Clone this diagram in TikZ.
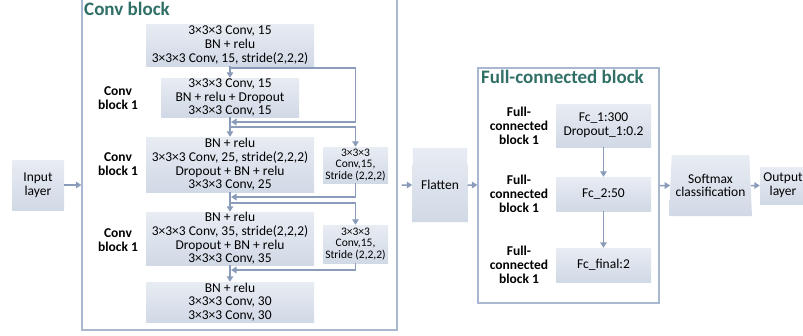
\documentclass[tikz,border=0pt]{standalone}
\usepackage{fontspec}
\setmainfont{Carlito}
\usetikzlibrary{shapes.geometric,arrows.meta}
\definecolor{boxtop}{HTML}{E8ECF3}
\definecolor{boxbot}{HTML}{D1D9E6}
\definecolor{framec}{HTML}{A9B8D0}
\definecolor{arrc}{HTML}{8A9CB9}
\definecolor{titlec}{HTML}{2F6F66}
\tikzset{
  blk/.style={draw=none, top color=boxtop, bottom color=boxbot, align=center,
    font=\fontsize{13.5}{13.7}\selectfont, inner sep=0pt},
  sblk/.style={blk, font=\fontsize{11.5}{11.8}\selectfont},
  trap/.style={blk, shape=trapezium, trapezium stretches=true},
  lbl/.style={font=\bfseries\fontsize{13.5}{13.7}\selectfont, align=center, inner sep=0pt},
  frm/.style={draw=framec, line width=1.2pt, fill=none, inner sep=0pt},
  ttl/.style={font=\bfseries\fontsize{19}{20}\selectfont, text=titlec, inner sep=0pt, anchor=base west},
  ln/.style={draw=arrc, line width=1.5pt},
  arr/.style={ln, -{Triangle[length=5.5pt,width=6.5pt]}}
}
\begin{document}
\begin{tikzpicture}[x=1pt,y=-1pt]
\useasboundingbox (0,0) rectangle (803,335);
\clip (0,0) rectangle (803,335);
% Conv block frame
\node[frm, minimum width=315pt, minimum height=340pt] (conv) at (239.5,160) {};
\node[ttl] (convt) at (84,15) {Conv block};
% main boxes
\node[blk, minimum width=168pt, minimum height=42pt] (b1) at (230,45) {3×3×3 Conv, 15\\BN + relu\\3×3×3 Conv, 15, stride(2,2,2)};
\node[blk, minimum width=138pt, minimum height=39pt] (b2) at (230,97.5) {3×3×3 Conv, 15\\BN + relu + Dropout\\3×3×3 Conv, 15};
\node[blk, minimum width=168pt, minimum height=55pt] (b3) at (230,164.5) {BN + relu\\3×3×3 Conv, 25, stride(2,2,2)\\Dropout + BN + relu\\3×3×3 Conv, 25};
\node[blk, minimum width=168pt, minimum height=53pt] (b4) at (230,238.5) {BN + relu\\3×3×3 Conv, 35, stride(2,2,2)\\Dropout + BN + relu\\3×3×3 Conv, 35};
\node[blk, minimum width=168pt, minimum height=40pt] (b5) at (230,302) {BN + relu\\3×3×3 Conv, 30\\3×3×3 Conv, 30};
% side boxes
\node[sblk, minimum width=65pt, minimum height=36pt] (s1) at (355.5,165) {3×3×3\\Conv,15,\\Stride (2,2,2)};
\node[sblk, minimum width=65pt, minimum height=38pt] (s2) at (355.5,244) {3×3×3\\Conv,15,\\Stride (2,2,2)};
% labels
\node[lbl] (l1) at (118,98) {Conv\\block 1};
\node[lbl] (l2) at (118,164) {Conv\\block 1};
\node[lbl] (l3) at (118,240) {Conv\\block 1};
% main arrows
\draw[arr] (b1) -- (b2);
\draw[arr] (b2) -- (b3);
\draw[arr] (b3) -- (b4);
\draw[arr] (b4) -- (b5);
% skip connections
\coordinate (k1) at (230,68);
\coordinate (r1) at (355.5,122);
\coordinate (m1) at (231,122);
\draw[arr] (k1) -| (r1) -- (m1);
\coordinate (k2) at (230,127);
\draw[arr] (k2) -| (s1.north);
\coordinate (m2) at (231,197);
\draw[arr] (s1.south) |- (m2);
\coordinate (k3) at (230,203);
\draw[arr] (k3) -| (s2.north);
\coordinate (m3) at (231,270);
\draw[arr] (s2.south) |- (m3);
% input
\node[blk, minimum width=52pt, minimum height=50pt] (in) at (38,185) {Input\\layer};
\draw[arr] (in) -- (conv.west |- in);
% flatten
\node[trap, trapezium left angle=86, trapezium right angle=86, minimum width=56pt, minimum height=74pt] (flat) at (440,185) {Flatten};
\draw[arr] ([xshift=4pt]conv.east |- flat) -- (flat);
% FC block
\node[frm, minimum width=181pt, minimum height=235pt] (fc) at (568.5,185.5) {};
\node[ttl] (fct) at (481,83) {Full-connected block};
\draw[arr] (flat) -- (fc.west |- flat);
\node[blk, minimum width=95pt, minimum height=43pt] (f1) at (603.5,125.5) {Fc\_1:300\\Dropout\_1:0.2};
\node[blk, minimum width=95pt, minimum height=34pt] (f2) at (603.5,194) {Fc\_2:50};
\node[blk, minimum width=95pt, minimum height=34pt] (f3) at (603.5,265) {Fc\_final:2};
\node[lbl] (fl1) at (519,126) {Full-\\connected\\block 1};
\node[lbl] (fl2) at (519,194) {Full-\\connected\\block 1};
\node[lbl] (fl3) at (519,265) {Full-\\connected\\block 1};
\draw[arr] (f1) -- (f2);
\draw[arr] (f2) -- (f3);
% softmax and output
\node[trap, trapezium left angle=84, trapezium right angle=84, minimum width=83pt, minimum height=61pt] (soft) at (710.5,185.5) {Softmax\\classification};
\draw[arr] (fc.east |- soft) -- (soft);
\node[blk, minimum width=46pt, minimum height=37pt] (out) at (783,185.5) {Output\\layer};
\draw[arr] (soft) -- (out);
\end{tikzpicture}
\end{document}
